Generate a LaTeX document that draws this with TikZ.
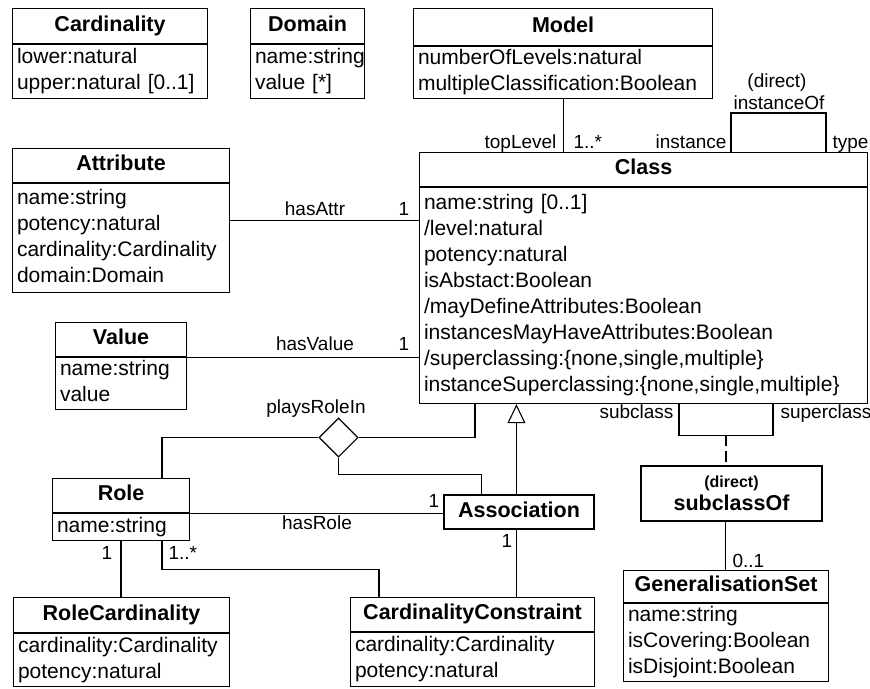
\documentclass[tikz,border=0pt]{standalone}
\usepackage{fontspec}
\setmainfont{Liberation Sans}
\usetikzlibrary{calc,shapes.geometric,arrows.meta}

% class box: #1 name, #2 left, #3 top, #4 width, #5 header height,
% #6 text width, #7 body height, #8 title, #9 attribute lines
\newcommand{\umlbox}[9]{%
  \node[hdr, minimum width=#4pt, minimum height=#5pt] (#1-h) at (#2,#3) {#8};
  \node[body, text width=#6pt, minimum height=#7pt] (#1-b) at (#1-h.south west) {#9};}

\begin{document}
\begin{tikzpicture}[x=1pt,y=-1pt,line width=1.1pt,
  hdr/.style={draw, anchor=north west, inner sep=0pt,
    font=\fontsize{21.5}{26}\selectfont\bfseries, execute at begin node=\strut},
  body/.style={draw, anchor=north west, inner xsep=4.5pt, inner ysep=0pt, align=left,
    font=\fontsize{21}{26}\selectfont,
    execute at begin node=\strut, execute at end node=\strut},
  lbl/.style={inner sep=0pt, font=\fontsize{19}{22}\selectfont},
  plainbox/.style={draw, inner sep=0pt, font=\fontsize{21.5}{26}\selectfont\bfseries},
]
\path[fill=white] (0,0) rectangle (870,688);
\useasboundingbox (0,0) rectangle (870,688);

% classes
\umlbox{card}{12}{8}{195}{35}{186}{54}{Cardinality}{lower:natural\\upper:natural [0..1]}
\umlbox{dom}{250}{8}{114}{35}{105}{54}{Domain}{name:string\\value [*]}
\umlbox{model}{413}{8}{299}{37}{290}{52}{Model}{numberOfLevels:natural\\multipleClassification:Boolean}
\umlbox{attr}{12}{148}{217}{34}{208}{109}{Attribute}{name:string\\potency:natural\\cardinality:Cardinality\\domain:Domain}
\umlbox{cls}{419}{152}{448}{34}{439}{216}{Class}{name:string [0..1]\\/level:natural\\potency:natural\\isAbstact:Boolean\\/mayDefineAttributes:Boolean\\instancesMayHaveAttributes:Boolean\\/superclassing:\{none,single,multiple\}\\instanceSuperclassing:\{none,single,multiple\}}
\umlbox{val}{55}{322}{131}{34}{122}{52}{Value}{name:string\\value}
\umlbox{role}{52}{478}{137}{34}{128}{27}{Role}{name:string}
\umlbox{rc}{13}{597}{216}{35}{207}{53}{RoleCardinality}{cardinality:Cardinality\\potency:natural}
\umlbox{cc}{350}{597}{244}{34}{235}{54}{CardinalityConstraint}{cardinality:Cardinality\\potency:natural}
\umlbox{gs}{623}{570}{205}{32}{196}{73}{GeneralisationSet}{name:string\\isCovering:Boolean\\isDisjoint:Boolean}

\node[plainbox, minimum width=150pt, minimum height=34pt] (assoc) at (519,512) {\strut Association};
\node[plainbox, minimum width=181pt, minimum height=55pt, align=center,
  font=\fontsize{21.5}{23.5}\selectfont\bfseries] (sub) at (731.5,493.5)
  {{\fontsize{16}{18}\selectfont (direct)}\\subclassOf};
\node[draw, diamond, aspect=1, minimum width=39pt, minimum height=39pt, inner sep=0pt] (dia) at (338.5,437.5) {};

% connectors
\draw (model-b.south) -- (model-b.south |- cls-h.north);
\draw ($(cls-h.north west)+(312,0)$) -- ++(0,-39) -| ($(cls-h.north west)+(407,0)$);
\draw ($(attr-b.north east)+(0,37)$) coordinate (ha) -- (ha -| cls-b.west);
\draw (val-b.north east) -- (val-b.north east -| cls-b.west);
\draw (dia.east) -| ($(cls-b.south west)+(56,0)$);
\draw (dia.west) -| ($(role-h.north west)+(110,0)$);
\draw (dia.south) -- ++(0,17) -| ($(assoc.north west)+(38,0)$);
\draw[-{Triangle[open,length=19pt,width=18pt]}] ($(assoc.north west)+(73,0)$) coordinate (gen) -- (gen |- cls-b.south);
\draw (role-b.north east) -- (role-b.north east -| assoc.west);
\draw ($(role-b.south west)+(69,0)$) coordinate (rr) -- (rr |- rc-h.north);
\draw ($(role-b.south west)+(110,0)$) -- ++(0,28) -| ($(cc-h.north west)+(29,0)$);
\draw ($(assoc.south west)+(73,0)$) coordinate (ac) -- (ac |- cc-h.north);
\draw ($(cls-b.south west)+(260,0)$) -- ++(0,31) -| ($(cls-b.south west)+(354,0)$);
\draw[dash pattern=on 11pt off 5pt] ($(cls-b.south west)+(307,31)$) coordinate (dl) -- (dl |- sub.north);
\draw ($(sub.south west)+(85,0)$) coordinate (sg) -- (sg |- gs-h.north);

% role names and multiplicities
\node[lbl, anchor=base east] (l1) at (557,148) {topLevel};
\node[lbl, anchor=base west] (l2) at (573,148) {1..*};
\node[lbl, anchor=base east] (l3) at (727,148) {instance};
\node[lbl, anchor=base west] (l4) at (832,148) {type};
\node[lbl, anchor=base] (l5) at (777,87) {(direct)};
\node[lbl, anchor=base] (l6) at (779,109) {instanceOf};
\node[lbl, anchor=base] (l7) at (315,215) {hasAttr};
\node[lbl, anchor=base] (l8) at (404,215) {1};
\node[lbl, anchor=base] (l9) at (315,350) {hasValue};
\node[lbl, anchor=base] (l10) at (404,350) {1};
\node[lbl, anchor=base] (l11) at (316,413) {playsRoleIn};
\node[lbl, anchor=base] (l12) at (434,507) {1};
\node[lbl, anchor=base] (l13) at (317,529) {hasRole};
\node[lbl, anchor=base] (l14) at (507,547) {1};
\node[lbl, anchor=base] (l15) at (107,559) {1};
\node[lbl, anchor=base west] (l16) at (168,559) {1..*};
\node[lbl, anchor=base east] (l17) at (674,418) {subclass};
\node[lbl, anchor=base west] (l18) at (780,418) {superclass};
\node[lbl, anchor=base west] (l19) at (732,567) {0..1};
\end{tikzpicture}
\end{document}
